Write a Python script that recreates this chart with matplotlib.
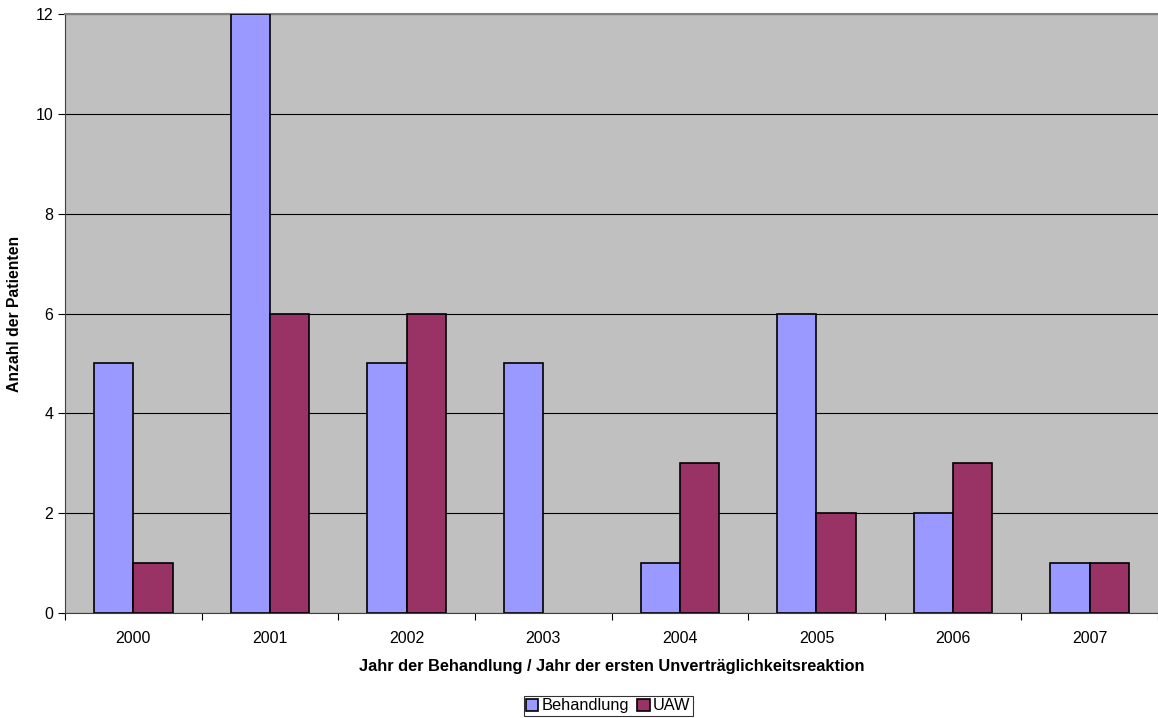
import matplotlib
matplotlib.use('Agg')
import matplotlib.pyplot as plt
import numpy as np

plt.rcParams['font.family'] = ['Liberation Sans', 'DejaVu Sans']

# Daten: Patienten pro Jahr
jahre = ['2000', '2001', '2002', '2003', '2004', '2005', '2006', '2007']
behandlung = [5, 12, 5, 5, 1, 6, 2, 1]
uaw = [1, 6, 6, 0, 3, 2, 3, 1]

fig = plt.figure(figsize=(11.58, 7.18), dpi=100)
ax = fig.add_axes([65 / 1158, 1 - 613 / 718, 1 - 65 / 1158, (613 - 14) / 718])
ax.set_facecolor('#C0C0C0')

x = np.arange(len(jahre))
w = 0.287
# Balken mit Höhe 0 ohne Rand zeichnen
rand_b = ['black' if v else 'none' for v in behandlung]
rand_u = ['black' if v else 'none' for v in uaw]
ax.bar(x - w / 2, behandlung, w, color='#9999FF', edgecolor=rand_b, linewidth=1.2,
       label='Behandlung', zorder=3)
ax.bar(x + w / 2, uaw, w, color='#993366', edgecolor=rand_u, linewidth=1.2,
       label='UAW', zorder=3)

ax.set_xlim(-0.5, 7.5 - 3 / 137)
ax.set_ylim(0, 12)
ax.set_yticks(range(0, 13, 2))
ax.yaxis.grid(True, color='black', linewidth=0.8, zorder=1)

# Striche an den Kategoriegrenzen, Beschriftung mittig
ax.set_xticks(np.arange(-0.5, 8, 1))
ax.set_xticklabels([])
ax.set_xticks(x, minor=True)
ax.set_xticklabels(jahre, minor=True)
ax.tick_params(axis='x', which='major', direction='out', length=5, width=0.8)
ax.tick_params(axis='x', which='minor', length=0, labelsize=11.5, pad=13)
ax.tick_params(axis='y', direction='out', length=5, width=0.8, labelsize=11.5)

ax.spines['right'].set_visible(False)
ax.spines['top'].set_color('#808080')
ax.spines['top'].set_linewidth(1.5)
ax.spines['left'].set_color('#404040')
ax.spines['bottom'].set_color('#404040')

ax.set_ylabel('Anzahl der Patienten', fontsize=11.3, fontweight='bold', labelpad=10)
ax.set_xlabel('Jahr der Behandlung / Jahr der ersten Unverträglichkeitsreaktion',
              fontsize=11.8, fontweight='bold', labelpad=9)

leg = ax.legend(loc='center', bbox_to_anchor=(0.497, -0.155), ncol=2,
                fontsize=11.8, frameon=True, fancybox=False, shadow=False,
                handlelength=0.75, handleheight=0.75, handletextpad=0.2,
                columnspacing=0.5, borderpad=0.15, borderaxespad=0)
leg.get_frame().set_edgecolor('black')
leg.get_frame().set_linewidth(0.8)

plt.savefig('out.png', dpi=100)
